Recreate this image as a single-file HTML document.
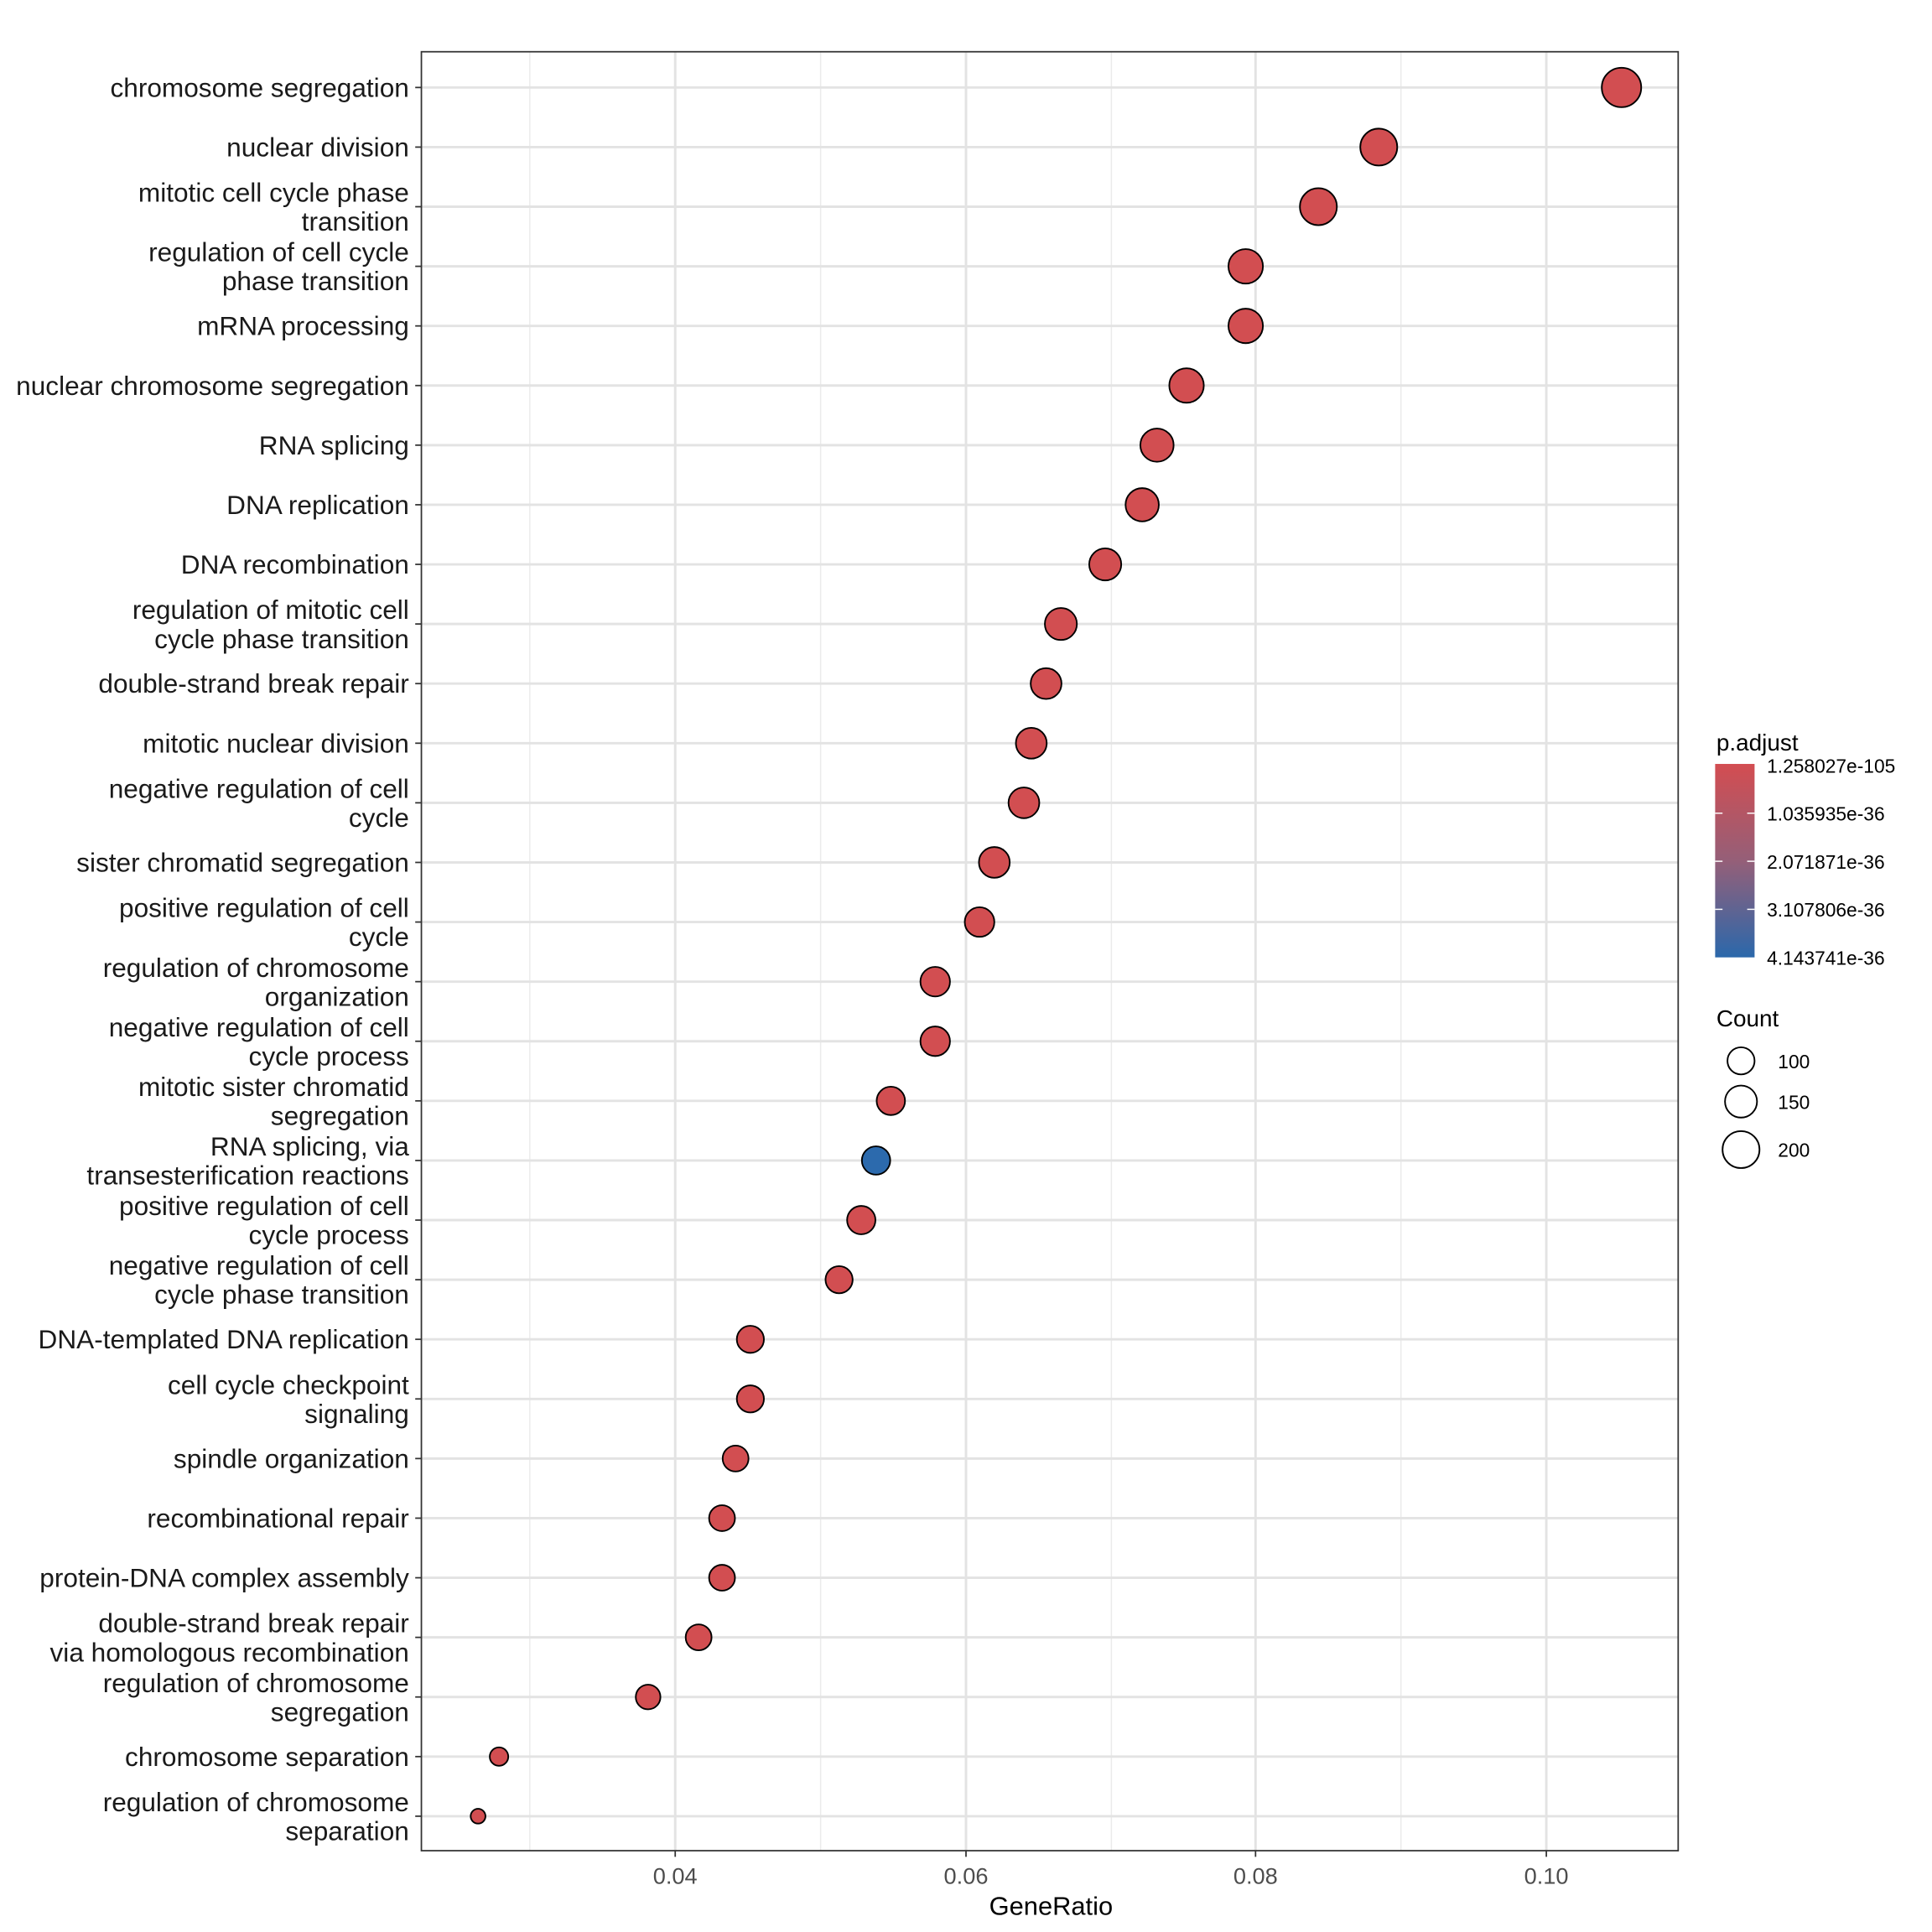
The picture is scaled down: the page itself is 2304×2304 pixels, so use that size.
<!DOCTYPE html>
<html><head><meta charset="utf-8"><style>html,body{margin:0;padding:0;background:#fff}svg{display:block}</style></head><body>
<svg width="2304" height="2304" viewBox="0 0 1568 1568" xmlns="http://www.w3.org/2000/svg" font-family="Liberation Sans, Arial, sans-serif">
<defs><linearGradient id="g" x1="0" y1="0" x2="0" y2="1"><stop offset="0" stop-color="#d34d51"/><stop offset="0.5" stop-color="#955f78"/><stop offset="1" stop-color="#2b68ab"/></linearGradient></defs>
<rect x="342" y="42" width="1020" height="1460" fill="#fff"/>
<g stroke="#ebebeb" stroke-width="1">
<line x1="430" y1="42" x2="430" y2="1502"/><line x1="666" y1="42" x2="666" y2="1502"/><line x1="902" y1="42" x2="902" y2="1502"/><line x1="1137" y1="42" x2="1137" y2="1502"/>
</g>
<g stroke="#e3e3e3" stroke-width="2">
<line x1="548" y1="42" x2="548" y2="1502"/><line x1="784" y1="42" x2="784" y2="1502"/><line x1="1019" y1="42" x2="1019" y2="1502"/><line x1="1255" y1="42" x2="1255" y2="1502"/>
</g>
<g id="rows" stroke="#e3e3e3" stroke-width="2"></g>
<rect x="342" y="42" width="1020" height="1460" fill="none" stroke="#333" stroke-width="1.2"/>
<g id="pts" stroke="#000" stroke-width="1.3"></g>
<g id="labs" font-size="21.5" fill="#1a1a1a" text-anchor="end"></g>
<g font-size="18.5" fill="#4d4d4d" text-anchor="middle">
<text x="548" y="1529">0.04</text><text x="784" y="1529">0.06</text><text x="1019" y="1529">0.08</text><text x="1255" y="1529">0.10</text>
</g>
<g stroke="#333" stroke-width="1.2"><line x1="548" y1="1502" x2="548" y2="1507"/><line x1="784" y1="1502" x2="784" y2="1507"/><line x1="1019" y1="1502" x2="1019" y2="1507"/><line x1="1255" y1="1502" x2="1255" y2="1507"/></g>
<text x="853" y="1554" font-size="21" text-anchor="middle" fill="#000">GeneRatio</text>
<text x="1393" y="609" font-size="19" fill="#000">p.adjust</text>
<rect x="1392" y="620" width="32" height="157" fill="url(#g)"/>
<g stroke="#fff" stroke-width="1"><line x1="1392" y1="660" x2="1398" y2="660"/><line x1="1418" y1="660" x2="1424" y2="660"/><line x1="1392" y1="699" x2="1398" y2="699"/><line x1="1418" y1="699" x2="1424" y2="699"/><line x1="1392" y1="738" x2="1398" y2="738"/><line x1="1418" y1="738" x2="1424" y2="738"/></g>
<g font-size="15.5" fill="#000"><text x="1434" y="627">1.258027e-105</text><text x="1434" y="666">1.035935e-36</text><text x="1434" y="705">2.071871e-36</text><text x="1434" y="744">3.107806e-36</text><text x="1434" y="783">4.143741e-36</text></g>
<text x="1393" y="833" font-size="19" fill="#000">Count</text>
<g fill="none" stroke="#000" stroke-width="1.3"><circle cx="1413" cy="861" r="11"/><circle cx="1413" cy="894" r="13"/><circle cx="1413" cy="933" r="15"/></g>
<g font-size="15.5" fill="#000"><text x="1443" y="867">100</text><text x="1443" y="900">150</text><text x="1443" y="939">200</text></g>
<script>
var d=[["chromosome segregation",1316,16],["nuclear division",1119,15],["mitotic cell cycle phase|transition",1070,15],["regulation of cell cycle|phase transition",1011,14],["mRNA processing",1011,14],["nuclear chromosome segregation",963,14],["RNA splicing",939,13.5],["DNA replication",927,13.5],["DNA recombination",897,13],["regulation of mitotic cell|cycle phase transition",861,13],["double-strand break repair",849,12.5],["mitotic nuclear division",837,12.5],["negative regulation of cell|cycle",831,12.5],["sister chromatid segregation",807,12.5],["positive regulation of cell|cycle",795,12],["regulation of chromosome|organization",759,12],["negative regulation of cell|cycle process",759,12],["mitotic sister chromatid|segregation",723,11.5],["RNA splicing, via|transesterification reactions",711,11.5,1],["positive regulation of cell|cycle process",699,11.5],["negative regulation of cell|cycle phase transition",681,11],["DNA-templated DNA replication",609,11],["cell cycle checkpoint|signaling",609,11],["spindle organization",597,10.5],["recombinational repair",586,10.5],["protein-DNA complex assembly",586,10.5],["double-strand break repair|via homologous recombination",567,10.5],["regulation of chromosome|segregation",526,10],["chromosome separation",405,7.5],["regulation of chromosome|separation",388,6]];
var NS="http://www.w3.org/2000/svg",R=document.getElementById("rows"),P=document.getElementById("pts"),L=document.getElementById("labs");
function el(t,a,p){var e=document.createElementNS(NS,t);for(var k in a)e.setAttribute(k,a[k]);p.appendChild(e);return e;}
d.forEach(function(r,i){var y=71+i*48.38;
el("line",{x1:342,x2:1362,y1:y,y2:y},R);
el("line",{x1:337,x2:342,y1:y,y2:y,stroke:"#333","stroke-width":1.2},L);
el("circle",{cx:r[1],cy:y,r:r[2],fill:r[3]?"#2c6aad":"#d24e51"},P);
var s=r[0].split("|");
if(s.length==1){el("text",{x:332,y:y+7.5},L).textContent=s[0];}
else{el("text",{x:332,y:y-4},L).textContent=s[0];el("text",{x:332,y:y+19.5},L).textContent=s[1];}
});
</script>
</svg>
</body></html>
